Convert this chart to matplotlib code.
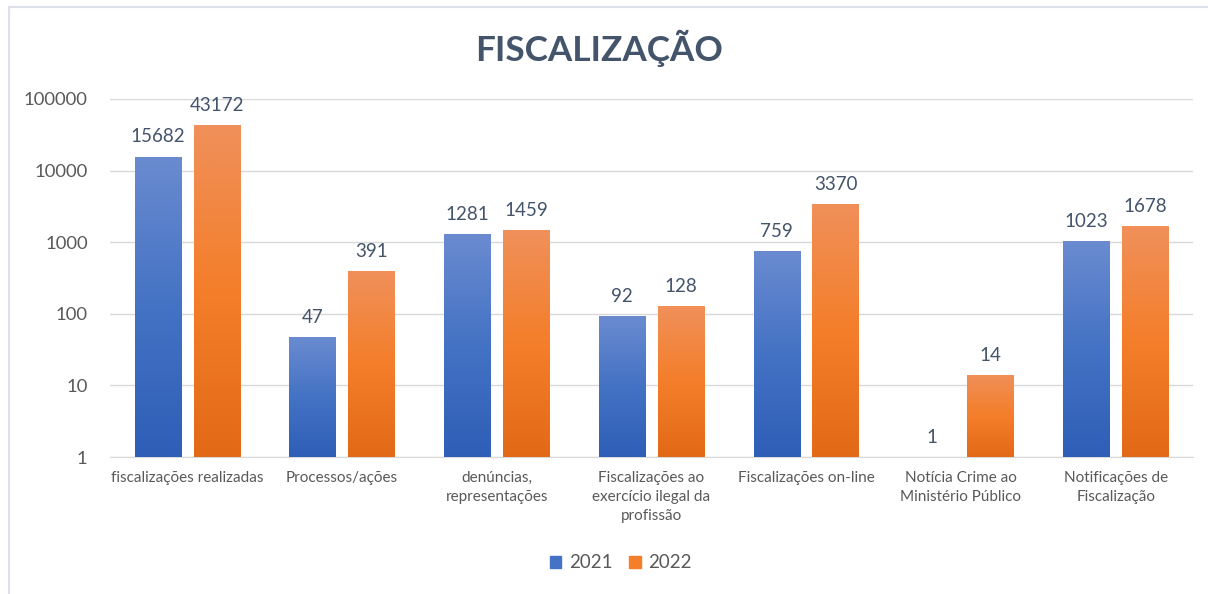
import matplotlib
matplotlib.use("Agg")
import matplotlib.pyplot as plt
import numpy as np
from matplotlib.image import AxesImage
from matplotlib.colors import LinearSegmentedColormap
from matplotlib.transforms import BboxTransformTo, TransformedBbox
from matplotlib.patches import Patch
from matplotlib.lines import Line2D

categories = ["fiscalizações realizadas", "Processos/ações", "denúncias,\nrepresentações",
              "Fiscalizações ao\nexercício ilegal da\nprofissão", "Fiscalizações on-line",
              "Notícia Crime ao\nMinistério Público", "Notificações de\nFiscalização"]
vals_2021 = [15682, 47, 1281, 92, 759, 1, 1023]
vals_2022 = [43172, 391, 1459, 128, 3370, 14, 1678]
series = ["2021", "2022"]
yticks = [1, 10, 100, 1000, 10000, 100000]

plt.rcParams['font.family'] = ['Lato', 'DejaVu Sans']

blue_cmap = LinearSegmentedColormap.from_list("b", ["#2E5EB6", "#4472C4", "#6A8BD0"])
orange_cmap = LinearSegmentedColormap.from_list("o", ["#E26A16", "#F47E2A", "#F0905A"])

fig = plt.figure(figsize=(12.08, 5.94), dpi=100)
ax = fig.add_axes([110 / 1208, 1 - 457 / 594, (1193 - 110) / 1208, (457 - 99) / 594])

ax.set_yscale("log")
ax.set_ylim(1, 100000)
x = np.arange(len(categories))
ax.set_xlim(-0.5, len(categories) - 0.5)

w = 0.30
off = 0.19
grad = np.linspace(0, 1, 256).reshape(-1, 1)

for vals, sign, cmap in [(vals_2021, -1, blue_cmap), (vals_2022, 1, orange_cmap)]:
    bars = ax.bar(x + sign * off, np.array(vals) - 1, width=w, bottom=1,
                  color="none", edgecolor="none", zorder=3)
    for b, v in zip(bars, vals):
        im = AxesImage(ax, cmap=cmap, extent=(0, 1, 0, 1), origin="lower",
                       interpolation="bilinear")
        im.set_data(grad)
        im.set_transform(BboxTransformTo(TransformedBbox(b.get_bbox(), ax.transData)))
        im.set_clip_path(b)
        im.set_zorder(3)
        ax.add_image(im)
        ax.annotate(str(v), (b.get_x() + b.get_width() / 2, v), xytext=(0, 8),
                    textcoords="offset points", ha="center", va="bottom",
                    fontsize=13.5, color="#44546A")

ax.set_yticks(yticks)
ax.set_yticklabels([str(t) for t in yticks])
ax.yaxis.set_minor_locator(matplotlib.ticker.NullLocator())
ax.set_xticks(x)
ax.set_xticklabels(categories, fontsize=11, color="#595959", linespacing=1.45)
ax.tick_params(axis="y", length=0, pad=16, labelsize=13.3, labelcolor="#595959")
ax.tick_params(axis="x", length=0, pad=10)
ax.grid(axis="y", color="#D9D9D9", lw=1, zorder=0)
ax.set_axisbelow(True)
for s in ["top", "right", "left"]:
    ax.spines[s].set_visible(False)
ax.spines["bottom"].set_color("#D9D9D9")

fig.text(0.496, 1 - 48 / 594, "FISCALIZAÇÃO", ha="center", va="center",
         fontsize=25.3, fontweight="bold", color="#44546A")

handles = [Patch(color="#4472C4", label=series[0]), Patch(color="#F47E2A", label=series[1])]
fig.legend(handles=handles, loc="center", bbox_to_anchor=(0.514, 1 - 563 / 594),
           ncol=2, frameon=False, fontsize=13.5, handlelength=0.6, handleheight=0.6,
           handletextpad=0.4, columnspacing=0.9, labelcolor="#595959")

# outer chart border
fig.add_artist(Line2D([9 / 1208, 1], [1 - 7 / 594, 1 - 7 / 594], color="#DDE1EA", lw=1.5))
fig.add_artist(Line2D([9 / 1208, 9 / 1208], [0, 1 - 7 / 594], color="#DDE1EA", lw=1.5))

fig.savefig("out.png", dpi=100, facecolor="white")
